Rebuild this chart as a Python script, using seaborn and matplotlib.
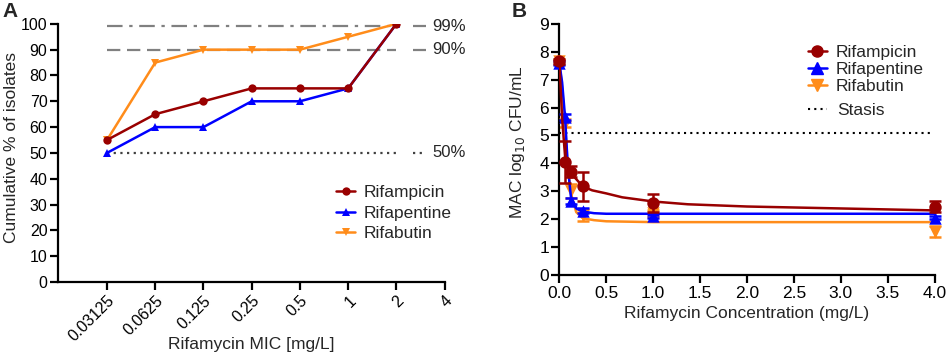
import matplotlib.pyplot as plt
import pandas as pd
import seaborn as sns
from matplotlib.lines import Line2D

# Panel A: cumulative % of isolates by MIC
MIC_LABELS = ["0.03125", "0.0625", "0.125", "0.25", "0.5", "1", "2", "4"]
MIC_RIFAMPICIN = [55, 65, 70, 75, 75, 75, 100]
MIC_RIFAPENTINE = [50, 60, 60, 70, 70, 75, 100]
MIC_RIFABUTIN = [55, 85, 90, 90, 90, 95, 100]

# Panel B: MAC log10 CFU/mL vs concentration
CONC = [0, 0.0625, 0.125, 0.25, 1, 4]
CFU_RIFAMPICIN = [7.65, 4.05, 3.7, 3.17, 2.57, 2.45]
ERR_RIFAMPICIN = [0.08, 0.75, 0.2, 0.52, 0.32, 0.2]
CFU_RIFAPENTINE = [7.6, 5.65, 2.65, 2.3, 2.1, 2.05]
ERR_RIFAPENTINE = [0.08, 0.1, 0.1, 0.1, 0.06, 0.06]
CFU_RIFABUTIN = [7.65, 5.4, 3.0, 2.15, 2.2, 1.55]
ERR_RIFABUTIN = [0.08, 0.1, 0.25, 0.22, 0.12, 0.2]
STASIS = 5.1

FIT_X_RED = [0, 0.03, 0.0625, 0.09, 0.125, 0.17, 0.25, 0.35, 0.5, 0.67, 1.0, 1.37, 2.0, 3.0, 4.0]
FIT_RED = [7.65, 5.6, 4.2, 3.85, 3.65, 3.47, 3.17, 3.03, 2.92, 2.78, 2.63, 2.53, 2.45, 2.38, 2.31]
FIT_X = [0, 0.03, 0.0625, 0.09, 0.125, 0.18, 0.25, 0.37, 0.5, 1, 2, 3, 4]
FIT_BLUE = [7.6, 6.9, 5.6, 3.9, 2.75, 2.38, 2.27, 2.21, 2.19, 2.19, 2.19, 2.19, 2.19]
FIT_ORANGE = [7.65, 6.7, 5.3, 3.9, 2.9, 2.25, 2.03, 1.96, 1.92, 1.89, 1.89, 1.89, 1.89]

DRUGS = ["Rifampicin", "Rifapentine", "Rifabutin"]
COLORS = {"Rifampicin": "#990000", "Rifapentine": "#0000ff", "Rifabutin": "#ff8c1a"}
MARKERS = {"Rifampicin": "o", "Rifapentine": "^", "Rifabutin": "v"}

sns.set_theme(style="ticks")
plt.rcParams.update({
    "font.family": ["Liberation Sans", "DejaVu Sans"],
    "font.size": 12,
    "axes.linewidth": 1.6,
    "xtick.major.width": 1.6,
    "ytick.major.width": 1.6,
    "xtick.major.size": 6,
    "ytick.major.size": 6,
    "xtick.major.pad": 2,
    "ytick.major.pad": 1.5,
    "axes.edgecolor": "black",
    "xtick.color": "black",
    "ytick.color": "black",
})

fig = plt.figure(figsize=(9.48, 3.56), dpi=100)
ax_a = fig.add_axes([0.061, 0.208, 0.408, 0.725])
ax_b = fig.add_axes([0.590, 0.228, 0.396, 0.705])

# ---- Panel A ----
n = len(MIC_RIFAMPICIN)
df_a = pd.DataFrame({
    "pos": list(range(n)) * 3,
    "pct": MIC_RIFAMPICIN + MIC_RIFAPENTINE + MIC_RIFABUTIN,
    "drug": [d for d in DRUGS for _ in range(n)],
})

ref_styles = [(99, (0, (7, 3, 1.5, 3)), "#808080"), (90, (0, (6, 3)), "#808080"), (50, (0, (1, 2)), "#404040")]
for level, ls, col in ref_styles:
    ax_a.plot([0, n - 1], [level, level], ls=ls, color=col, lw=1.6, zorder=1)
    ax_a.plot([6.35, 6.62], [level, level], ls=ls, color=col, lw=1.6, clip_on=False)
    ax_a.text(6.74, level, f"{level}%", va="center", ha="left", fontsize=12, clip_on=False)

for drug in ["Rifabutin", "Rifapentine", "Rifampicin"]:
    sns.lineplot(data=df_a[df_a["drug"] == drug], x="pos", y="pct", color=COLORS[drug],
                 marker=MARKERS[drug], markersize=6, markeredgewidth=0, lw=1.8,
                 ax=ax_a, label=drug, zorder=3)

ax_a.set_xlim(-1.02, 7)
ax_a.set_ylim(0, 100)
ax_a.set_yticks(range(0, 101, 10))
ax_a.set_xticks(range(len(MIC_LABELS)))
ax_a.set_xticklabels(MIC_LABELS, rotation=45, ha="right", rotation_mode="anchor")
ax_a.tick_params(axis="both", labelsize=11.5)
ax_a.set_xlabel("Rifamycin MIC [mg/L]", fontsize=12.5)
ax_a.xaxis.set_label_coords(0.5, -0.215)
ax_a.set_ylabel("Cumulative % of isolates", fontsize=12.5)
ax_a.yaxis.set_label_coords(-0.1, 0.52)
handles, labels = ax_a.get_legend_handles_labels()
order = [labels.index(d) for d in DRUGS]
ax_a.legend([handles[i] for i in order], DRUGS, loc="upper left", bbox_to_anchor=(0.72, 0.375),
            frameon=False, fontsize=12.5, handlelength=1.1, handletextpad=0.5, labelspacing=0.3,
            borderpad=0, borderaxespad=0)
sns.despine(ax=ax_a)
fig.text(0.003, 0.995, "A", fontsize=15, fontweight="bold", va="top", ha="left")

# ---- Panel B ----
fits = {"Rifampicin": (FIT_X_RED, FIT_RED), "Rifapentine": (FIT_X, FIT_BLUE), "Rifabutin": (FIT_X, FIT_ORANGE)}
points = {"Rifampicin": (CFU_RIFAMPICIN, ERR_RIFAMPICIN),
          "Rifapentine": (CFU_RIFAPENTINE, ERR_RIFAPENTINE),
          "Rifabutin": (CFU_RIFABUTIN, ERR_RIFABUTIN)}

ax_b.plot([0, 3.98], [STASIS, STASIS], ls=(0, (1, 2)), color="black", lw=1.5, zorder=1)

for z, drug in enumerate(["Rifabutin", "Rifapentine", "Rifampicin"]):
    fx, fy = fits[drug]
    sns.lineplot(x=fx, y=fy, color=COLORS[drug], lw=1.8, ax=ax_b, zorder=2 + z)
    y, e = points[drug]
    eb = ax_b.errorbar(CONC, y, yerr=e, fmt="none", ecolor=COLORS[drug], elinewidth=1.8,
                       capsize=4.5, capthick=1.8, zorder=2 + z)
    for art in eb.lines[1] + eb.lines[2]:
        art.set_clip_on(False)
    sns.scatterplot(x=CONC, y=y, color=COLORS[drug], marker=MARKERS[drug], s=80,
                    linewidth=0, ax=ax_b, zorder=3 + z, clip_on=False)

ax_b.set_xlim(0, 4.0)
ax_b.set_ylim(0, 9)
ax_b.set_xticks([i * 0.5 for i in range(9)])
ax_b.set_xticklabels([f"{i * 0.5:.1f}" for i in range(9)])
ax_b.set_yticks(range(10))
ax_b.tick_params(axis="both", labelsize=12.5)
ax_b.set_xlabel("Rifamycin Concentration (mg/L)", fontsize=12.5, labelpad=4)
ax_b.set_ylabel("MAC log$_{10}$ CFU/mL", fontsize=12.5)
ax_b.yaxis.set_label_coords(-0.085, 0.53)
leg_handles = [Line2D([], [], color=COLORS[d], marker=MARKERS[d], markersize=8, lw=1.8) for d in DRUGS]
leg_drugs = ax_b.legend(leg_handles, DRUGS, loc="upper left", bbox_to_anchor=(0.662, 0.915),
                        frameon=False, fontsize=12.5, handlelength=1.1, handletextpad=0.5,
                        labelspacing=0.1, borderpad=0, borderaxespad=0)
ax_b.add_artist(leg_drugs)
ax_b.legend([Line2D([], [], color="black", ls=(0, (1, 2)), lw=1.5)], ["Stasis"], loc="upper left",
            bbox_to_anchor=(0.662, 0.684), frameon=False, fontsize=12.5, handlelength=1.1,
            handletextpad=0.6, borderpad=0, borderaxespad=0)
sns.despine(ax=ax_b)
fig.text(0.54, 0.995, "B", fontsize=15, fontweight="bold", va="top", ha="left")

fig.savefig("out.png", dpi=100)
